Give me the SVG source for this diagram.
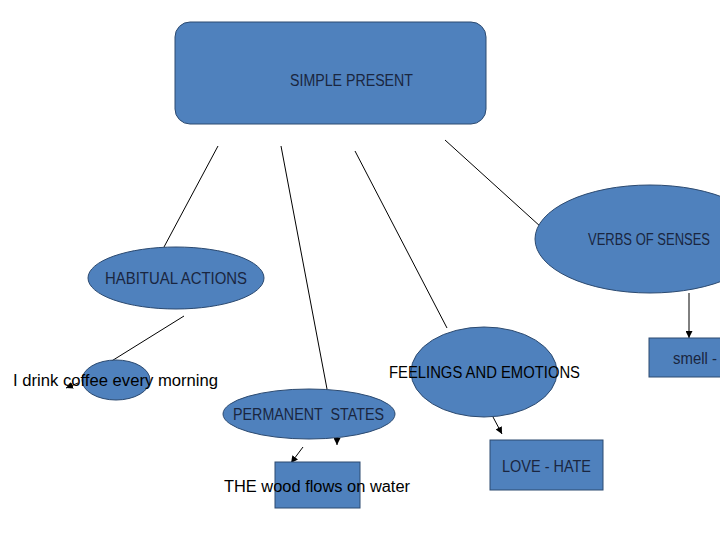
<svg xmlns="http://www.w3.org/2000/svg" width="720" height="540" viewBox="0 0 720 540">
<defs>
<style>
.n{fill:#4f81bd;stroke:#2c4a70;stroke-width:1}
.t{font-family:"Liberation Sans",Arial,sans-serif;font-size:16px;fill:#1a2640}
.o{font-family:"Liberation Sans",Arial,sans-serif;font-size:16px;fill:#000}
.c{stroke:#000;stroke-width:1;fill:none}
.a{stroke:#000;stroke-width:1;fill:none;marker-end:url(#ah)}
</style>
<marker id="ah" viewBox="0 0 10 10" refX="10" refY="5" markerWidth="7" markerHeight="7" orient="auto" markerUnits="userSpaceOnUse">
<path d="M0,0 L10,5 L0,10 z" fill="#000"/>
</marker>
</defs>
<rect width="720" height="540" fill="#fff"/>
<g id="connectors">
<line class="c" x1="218" y1="146" x2="164" y2="247"/>
<line class="c" x1="281" y1="146" x2="327" y2="389"/>
<line class="c" x1="355" y1="151" x2="447" y2="328"/>
<line class="c" x1="445" y1="140" x2="541" y2="227"/>
<line class="c" x1="184" y1="316" x2="110" y2="362"/>
<line class="a" x1="78" y1="383" x2="66" y2="388"/>
<line class="a" x1="303" y1="447" x2="291" y2="463"/>
<line class="a" x1="337" y1="438" x2="337" y2="445"/>
<line class="a" x1="493" y1="417" x2="502" y2="434"/>
<line class="a" x1="689" y1="293" x2="689" y2="338"/>
</g>
<g id="simple-present">
<rect class="n" x="175" y="22" width="311" height="102" rx="15"/>
<text class="t" x="290" y="86" textLength="123" lengthAdjust="spacingAndGlyphs">SIMPLE PRESENT</text>
</g>
<g id="habitual-actions">
<ellipse class="n" cx="176" cy="278" rx="88" ry="31"/>
<text class="t" x="105" y="284" textLength="142" lengthAdjust="spacingAndGlyphs">HABITUAL ACTIONS</text>
</g>
<g id="coffee">
<ellipse class="n" cx="116" cy="380" rx="34" ry="20"/>
<text class="o" x="13" y="386" textLength="205" lengthAdjust="spacingAndGlyphs">I drink coffee every morning</text>
</g>
<g id="permanent-states">
<ellipse class="n" cx="309" cy="414" rx="86" ry="25"/>
<text class="t" x="233" y="420" textLength="151" lengthAdjust="spacingAndGlyphs" xml:space="preserve">PERMANENT  STATES</text>
</g>
<g id="wood">
<rect class="n" x="275" y="462" width="85" height="46"/>
<text class="o" x="224" y="492" textLength="186" lengthAdjust="spacingAndGlyphs">THE wood flows on water</text>
</g>
<g id="feelings">
<ellipse class="n" cx="484" cy="372" rx="73" ry="45"/>
<text class="o" x="389" y="378" textLength="191" lengthAdjust="spacingAndGlyphs">FEELINGS AND EMOTIONS</text>
</g>
<g id="love-hate">
<rect class="n" x="490" y="440" width="113" height="50"/>
<text class="t" x="502" y="472" textLength="89" lengthAdjust="spacingAndGlyphs">LOVE - HATE</text>
</g>
<g id="verbs-of-senses">
<ellipse class="n" cx="650" cy="239" rx="115" ry="54"/>
<text class="t" x="588" y="245" textLength="122" lengthAdjust="spacingAndGlyphs">VERBS OF SENSES</text>
</g>
<g id="smell">
<rect class="n" x="649" y="338" width="81" height="39"/>
<text class="t" x="673" y="364" textLength="44" lengthAdjust="spacingAndGlyphs">smell -</text>
</g>
</svg>
